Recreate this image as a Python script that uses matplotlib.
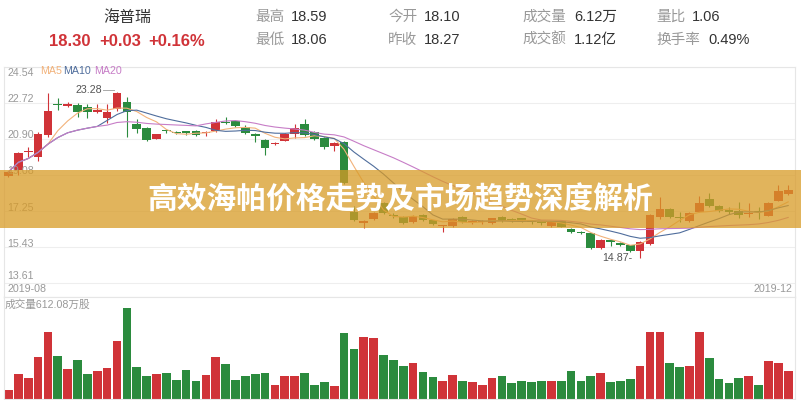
import matplotlib
matplotlib.use("Agg")
import matplotlib.pyplot as plt
from matplotlib.patches import Rectangle
import numpy as np
import pandas as pd

plt.rcParams['font.family'] = ['Liberation Sans', 'Noto Sans CJK SC', 'DejaVu Sans']

# daily candles
opens = [19.02, 19.33, 20.25, 20.00, 21.10, 22.67, 22.57, 22.62, 22.53, 22.28,
         21.94, 22.42, 22.78, 21.64, 21.47, 20.90, 21.32, 21.25, 21.25, 21.30,
         21.18, 21.30, 21.74, 21.81, 21.52, 21.15, 20.85, 20.63, 20.80, 21.16,
         21.64, 21.27, 20.93, 20.56, 20.76, 17.22, 16.63, 16.83, 17.64, 17.07,
         16.97, 16.71, 17.05, 16.78, 16.48, 16.49, 16.93, 16.70, 16.70, 16.66,
         16.97, 16.82, 16.88, 16.73, 16.68, 16.49, 16.74, 16.34, 16.20, 16.12,
         15.36, 15.78, 15.65, 15.52, 15.24, 15.58, 16.97, 17.34, 16.90, 16.76,
         17.22, 17.86, 17.51, 17.24, 17.27, 17.11, 17.22, 17.00, 17.77, 18.10]
closes = [19.23, 20.20, 20.30, 21.14, 22.31, 22.63, 22.67, 22.28, 22.25, 22.33,
          22.25, 23.20, 22.25, 21.40, 20.83, 21.14, 21.28, 21.21, 21.22, 21.10,
          21.22, 21.74, 21.70, 21.57, 21.19, 21.03, 20.43, 20.71, 21.15, 21.44,
          21.10, 20.90, 20.51, 20.71, 18.65, 16.80, 16.77, 17.15, 17.17, 17.00,
          16.63, 17.00, 16.80, 16.60, 16.50, 16.83, 16.70, 16.72, 16.73, 16.88,
          16.76, 16.79, 16.74, 16.70, 16.65, 16.71, 16.46, 16.17, 16.12, 15.36,
          15.78, 15.68, 15.53, 15.24, 15.70, 17.05, 17.33, 16.93, 16.88, 17.13,
          17.67, 17.52, 17.25, 17.22, 17.05, 17.14, 17.20, 17.67, 18.27, 18.30]
highs = [19.30, 20.25, 20.50, 21.27, 23.20, 22.99, 22.75, 22.72, 22.65, 22.65,
         22.65, 23.28, 23.00, 21.90, 21.52, 21.16, 21.40, 21.30, 21.30, 21.35,
         21.30, 21.90, 22.03, 21.85, 21.60, 21.20, 20.88, 20.75, 21.20, 21.65,
         21.90, 21.30, 20.98, 20.75, 20.80, 17.50, 16.80, 17.20, 17.70, 17.15,
         17.00, 17.05, 17.10, 16.82, 16.55, 16.88, 16.98, 16.80, 16.80, 16.92,
         17.02, 16.90, 16.92, 16.80, 16.75, 16.75, 16.78, 16.38, 16.25, 16.15,
         15.85, 15.82, 15.68, 15.55, 15.75, 17.10, 17.98, 17.40, 17.20, 17.18,
         18.00, 18.15, 17.55, 17.45, 17.70, 17.65, 17.45, 17.70, 18.57, 18.59]
lows = [18.95, 19.10, 20.00, 19.78, 21.00, 22.36, 22.50, 22.03, 21.95, 22.20,
        21.72, 22.30, 21.01, 21.20, 20.80, 20.88, 21.20, 21.15, 21.10, 21.05,
        21.05, 21.25, 21.65, 21.50, 21.15, 20.75, 20.09, 20.60, 20.78, 20.95,
        21.05, 20.85, 20.40, 20.30, 18.60, 16.75, 16.39, 16.80, 17.10, 16.90,
        16.60, 16.65, 16.75, 16.55, 16.20, 16.45, 16.65, 16.62, 16.60, 16.62,
        16.72, 16.70, 16.70, 16.62, 16.55, 16.45, 16.42, 16.12, 16.08, 15.34,
        15.32, 15.50, 15.48, 15.20, 14.87, 15.55, 16.85, 16.90, 16.70, 16.72,
        17.20, 17.48, 17.20, 17.10, 16.90, 16.95, 16.85, 16.98, 17.75, 18.06]
# volume, 万股
volumes = [60, 168, 139, 280, 451, 288, 201, 261, 166, 186,
           210, 387, 612.08, 215, 156, 168, 174, 127, 196, 121,
           161, 282, 235, 127, 154, 168, 176, 94, 156, 156,
           176, 94, 114, 89, 440, 333, 416, 411, 295, 261,
           221, 239, 183, 145, 123, 161, 123, 114, 96, 143,
           154, 109, 121, 116, 123, 123, 123, 190, 123, 154,
           176, 114, 123, 136, 221, 451, 451, 239, 217, 223,
           451, 275, 136, 109, 143, 156, 94, 255, 243, 190]

price_ticks = [24.54, 22.72, 20.90, 19.08, 17.25, 15.43, 13.61]
date_labels = ['2019-08', '2019-12']

RED = '#d03338'
GREEN = '#2b8b3e'
GREY = '#999999'
DARK = '#333333'

W, H = 801, 400
fig = plt.figure(figsize=(W / 100, H / 100), dpi=100)
fig.patch.set_facecolor('white')


def box(x0, y0, x1, y1):
    return [x0 / W, 1 - y1 / H, (x1 - x0) / W, (y1 - y0) / H]


n = len(closes)
x = np.arange(n)
o = np.array(opens)
c = np.array(closes)
up = c >= o
cols = [RED if u else GREEN for u in up]

# ---- price panel ----
ax = fig.add_axes(box(4, 67, 795, 297))
px_per = 216 / (price_ticks[0] - price_ticks[-1])
ax.set_xlim(-0.45, n - 0.31)
ax.set_ylim(price_ticks[0] - 230 / px_per, price_ticks[0])

for t in price_ticks:
    ax.axhline(t, color='#eeeeee', lw=0.8, zorder=0)

ax.vlines(x, lows, highs, colors=cols, lw=0.8, zorder=2)
body_lo = np.minimum(o, c)
body_h = np.maximum(np.abs(c - o), 0.06)
ax.bar(x, body_h, bottom=body_lo, width=0.88, color=cols, zorder=3)

s = pd.Series(closes)
ax.plot(x, s.rolling(5, min_periods=1).mean(), color='#f2b27a', lw=0.8, zorder=4)
ax.plot(x, s.rolling(10, min_periods=1).mean(), color='#4f6d9c', lw=0.8, zorder=4)
ax.plot(x, s.rolling(20, min_periods=1).mean(), color='#c77dc7', lw=0.8, zorder=4)

# y labels inside the plot
for i, t in enumerate(price_ticks):
    if i == 0:
        ax.annotate(f'{t:.2f}', (0, t), xycoords=('axes fraction', 'data'),
                    xytext=(2.5, -4.5), textcoords='offset points',
                    ha='left', va='center', fontsize=7.7, color=GREY)
    else:
        ax.annotate(f'{t:.2f}', (0, t), xycoords=('axes fraction', 'data'),
                    xytext=(2.5, 2.5 if i < len(price_ticks) - 1 else 5),
                    textcoords='offset points',
                    ha='left', va='center', fontsize=7.7, color=GREY)

# MA legend
ax.text(36 / 791, 1 - 4 / 230, 'MA5', transform=ax.transAxes, fontsize=7.7,
        color='#f2b27a', ha='left', va='center')
ax.text(59 / 791, 1 - 4 / 230, 'MA10', transform=ax.transAxes, fontsize=7.7,
        color='#4f6d9c', ha='left', va='center')
ax.text(90 / 791, 1 - 4 / 230, 'MA20', transform=ax.transAxes, fontsize=7.7,
        color='#c77dc7', ha='left', va='center')

# max / min markers
imax = int(np.argmax(highs))
imin = int(np.argmin(lows))
ax.plot([imax - 1.4, imax - 0.3], [highs[imax] + 0.12] * 2, color='#aaaaaa', lw=0.7)
ax.text(imax - 1.5, highs[imax] + 0.12, f'{highs[imax]:.2f}', ha='right', va='center',
        fontsize=7.7, color='#555555')
ax.text(imin - 0.8, lows[imin], f'{lows[imin]:.2f}-', ha='right', va='center',
        fontsize=7.7, color='#555555')

# dates
ax.text(3 / 791, 8 / 230, date_labels[0], transform=ax.transAxes, fontsize=7.7,
        color=GREY, ha='left', va='center')
ax.text(1 - 3 / 791, 8 / 230, date_labels[1], transform=ax.transAxes, fontsize=7.7,
        color=GREY, ha='right', va='center')

ax.set_xticks([])
ax.set_yticks([])
for sp in ax.spines.values():
    sp.set_color('#e6e6e6')
    sp.set_linewidth(0.8)

# ---- volume panel ----
axv = fig.add_axes(box(4, 297, 795, 399))
axv.set_xlim(-0.45, n - 0.31)
axv.set_ylim(0, max(volumes) * 102 / 91.3)
axv.bar(x, volumes, width=0.88, color=cols)
axv.text(1 / 791, 1 - 8 / 102, f'成交量{max(volumes):.2f}万股', transform=axv.transAxes,
         fontsize=7.7, color=GREY, ha='left', va='center')
axv.set_xticks([])
axv.set_yticks([])
for sp in axv.spines.values():
    sp.set_color('#e6e6e6')
    sp.set_linewidth(0.8)

# ---- header ----
def ftext(px, py, s, **kw):
    fig.text(px / W, 1 - py / H, s, va='center', **kw)


ftext(127, 17, '海普瑞', ha='center', fontsize=11.5, color=DARK)
ftext(49, 41, '18.30', ha='left', fontsize=12, color=RED, fontweight='bold')
ftext(99, 41, '+0.03', ha='left', fontsize=12, color=RED, fontweight='bold')
ftext(148, 41, '+0.16%', ha='left', fontsize=12, color=RED, fontweight='bold')

head_labels = [('最高', '18.59', 255, 291, 17), ('最低', '18.06', 255, 291, 40),
               ('今开', '18.10', 388, 424, 17), ('昨收', '18.27', 388, 424, 40),
               ('成交量', '6.12万', 522, 574, 17), ('成交额', '1.12亿', 522, 574, 40),
               ('量比', '1.06', 656, 692, 17), ('换手率', '0.49%', 656, 708, 40)]
for lab, val, lx, vx, yy in head_labels:
    ftext(lx, yy, lab, ha='left', fontsize=10.5, color=GREY)
    ftext(vx, yy, val, ha='left', fontsize=10.5, color=DARK)

# ---- banner overlay ----
fig.add_artist(Rectangle((0, 1 - 228 / H), 1, 58 / H, transform=fig.transFigure,
                         facecolor=(216 / 255, 155 / 255, 38 / 255), alpha=0.75,
                         edgecolor='none', zorder=10))
fig.text(400 / W, 1 - 200 / H, '高效海帕价格走势及市场趋势深度解析', ha='center', va='center',
         fontsize=21.4, color='white', fontweight='bold',
         family=['Noto Sans CJK SC'], zorder=11)

fig.savefig('out.png', dpi=100)
